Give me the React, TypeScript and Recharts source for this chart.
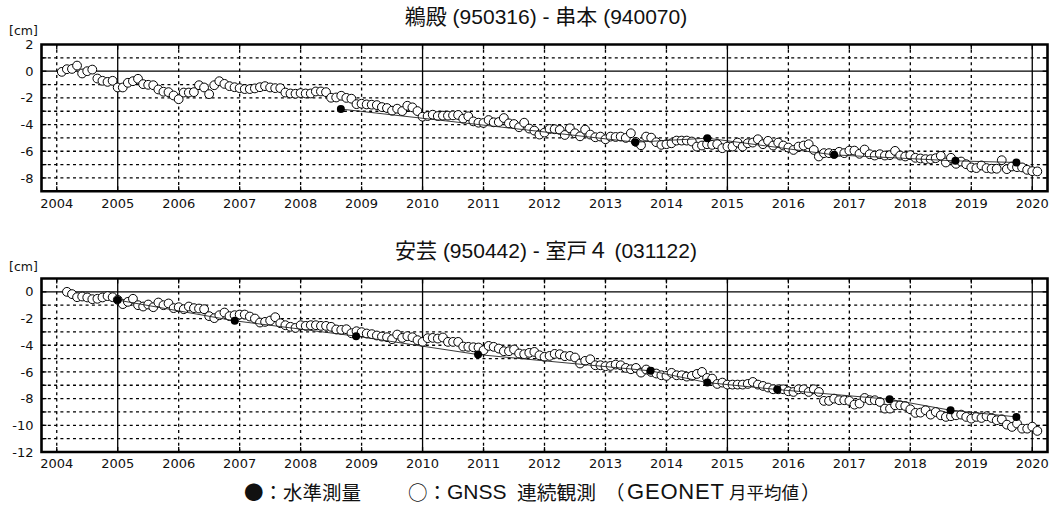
import { ScatterChart, Scatter, XAxis, YAxis, ReferenceLine, ReferenceArea } from "recharts";

// x axis
const years = [2004, 2005, 2006, 2007, 2008, 2009, 2010, 2011, 2012, 2013, 2014, 2015, 2016, 2017, 2018, 2019, 2020];
const xDomain = [2003.75, 2020.25];

// panel 1: 鵜殿 - 串本
const topTitle = "鵜殿 (950316) - 串本 (940070)";
const topYTicks = [2, 0, -2, -4, -6, -8];
const topYDomain = [-9, 2];
const topGnssStart = 2004.083; // monthly values from Feb 2004
const topGnss = [
  -0.05, 0.15, 0.17, 0.42, -0.17, 0.0, 0.12, -0.55, -0.72, -0.8, -0.72, -1.22,
  -1.22, -0.87, -0.75, -0.57, -0.97, -1.02, -1.05, -1.37, -1.54, -1.57, -1.82, -2.1,
  -1.6, -1.6, -1.57, -1.05, -1.22, -1.72, -1.05, -0.75, -0.95, -1.12, -1.2, -1.27,
  -1.34, -1.34, -1.29, -1.2, -1.12, -1.22, -1.27, -1.27, -1.6, -1.67, -1.69, -1.64,
  -1.67, -1.67, -1.52, -1.52, -1.57, -1.99, -1.97, -1.84, -2.0, -2.06, -2.47, -2.44,
  -2.49, -2.51, -2.54, -2.69, -2.76, -2.96, -2.81, -2.99, -2.59, -2.71, -2.99, -3.41,
  -3.36, -3.26, -3.36, -3.33, -3.33, -3.31, -3.28, -3.56, -3.38, -3.76, -3.86, -3.88,
  -3.66, -3.83, -3.81, -3.51, -3.91, -3.96, -4.2, -3.86, -4.3, -4.45, -4.75, -4.6,
  -4.33, -4.35, -4.4, -4.78, -4.28, -4.65, -4.88, -4.38, -4.75, -4.95, -4.9, -5.1,
  -4.9, -4.93, -4.9, -5.0, -4.65, -5.3, -5.55, -4.9, -4.98, -5.32, -5.52, -5.47,
  -5.4, -5.2, -5.2, -5.2, -5.27, -5.65, -5.57, -5.47, -5.52, -5.47, -5.77, -5.65,
  -5.65, -5.35, -5.65, -5.4, -5.35, -5.1, -5.47, -5.22, -5.57, -5.35, -5.57, -5.72,
  -5.9, -5.65, -5.57, -5.47, -5.9, -6.39, -6.14, -6.14, -6.19, -6.04, -6.14, -5.95,
  -5.95, -6.19, -5.87, -6.22, -6.32, -6.22, -6.32, -6.29, -5.97, -6.32, -6.39, -6.29,
  -6.49, -6.54, -6.59, -6.59, -6.52, -6.34, -6.84, -6.49, -6.94, -6.77, -6.97, -7.21,
  -7.26, -7.06, -7.26, -7.31, -7.31, -6.67, -7.34, -7.14, -7.19, -7.21, -7.39, -7.49,
  -7.51,
];
const topLevelT = [2008.66, 2013.49, 2014.67, 2016.75, 2018.74, 2019.74];
const topLevelV = [-2.84, -5.32, -5.02, -6.27, -6.72, -6.84];

// panel 2: 安芸 - 室戸4
const botTitle = "安芸 (950442) - 室戸４ (031122)";
const botYTicks = [0, -2, -4, -6, -8, -10, -12];
const botYDomain = [-12, 1];
const botGnssStart = 2004.167; // monthly values from Mar 2004
const botGnss = [
  0.0, -0.17, -0.4, -0.35, -0.42, -0.55, -0.52, -0.42, -0.32, -0.4, -0.6,
  -0.92, -0.75, -0.52, -1.0, -1.1, -0.95, -1.15, -0.8, -1.0, -0.87, -1.22, -1.15,
  -1.3, -1.1, -1.22, -1.25, -1.3, -1.82, -1.97, -1.75, -1.55, -1.82, -1.75, -1.7,
  -1.7, -1.85, -2.0, -2.3, -2.25, -2.15, -1.9, -2.35, -2.5, -2.62, -2.7, -2.5,
  -2.55, -2.5, -2.5, -2.55, -2.55, -2.62, -2.82, -2.85, -2.8, -3.1, -2.95, -3.02,
  -3.12, -3.17, -3.27, -3.35, -3.4, -3.55, -3.2, -3.45, -3.32, -3.4, -3.62, -3.75,
  -3.47, -3.45, -3.5, -3.42, -3.75, -3.75, -3.75, -4.1, -4.12, -4.15, -4.17, -4.37,
  -4.05, -4.12, -4.25, -4.45, -4.45, -4.32, -4.62, -4.67, -4.57, -4.5, -4.75, -4.87,
  -4.8, -4.65, -4.67, -4.82, -4.8, -4.92, -5.37, -5.17, -5.05, -5.5, -5.5, -5.57,
  -5.55, -5.45, -5.5, -5.7, -5.8, -5.7, -6.05, -5.82, -6.0, -6.12, -6.25, -6.3,
  -6.07, -6.25, -6.25, -6.35, -6.3, -6.15, -6.0, -6.45, -6.5, -6.9, -6.8, -6.95,
  -6.95, -6.95, -6.95, -6.9, -6.75, -6.95, -7.05, -7.17, -7.3, -7.3, -7.3, -7.45,
  -7.5, -7.3, -7.3, -7.5, -7.3, -7.5, -8.17, -8.17, -8.0, -8.12, -8.12, -8.17,
  -8.45, -8.37, -7.95, -8.12, -8.12, -8.25, -8.75, -8.75, -8.5, -8.5, -8.55, -8.8,
  -9.07, -9.05, -8.87, -9.2, -9.0, -9.25, -9.37, -9.32, -9.25, -9.2, -9.37, -9.5,
  -9.37, -9.45, -9.32, -9.45, -9.62, -9.55, -9.95, -10.12, -9.87, -10.25, -10.25, -10.1,
  -10.42,
];
const botLevelT = [2005.0, 2006.92, 2008.91, 2010.91, 2013.74, 2014.67, 2015.82, 2017.66, 2018.66, 2019.74];
const botLevelV = [-0.62, -2.17, -3.32, -4.7, -5.92, -6.8, -7.32, -8.05, -8.87, -9.37];

// legend pieces (text, left px, font size, latin?)
const legendParts: [string, number, number, boolean][] = [
  ["●：水準測量", 244, 19.5, false],
  ["○：", 408, 19.5, false],
  ["GNSS", 447, 21, true],
  ["連続観測", 517, 19.8, false],
  ["（", 605, 19.5, false],
  ["GEONET", 627, 22, true],
  ["月平均値", 729, 17.5, false],
  ["）", 801, 19.5, false],
];

const tickFont = { fontFamily: "'DejaVu Sans', sans-serif", fontSize: 13, fill: "#111" };
const cjkFont = "'Liberation Sans', 'Noto Sans CJK JP', sans-serif";

const openCircle = (p: any) => (
  <circle cx={p.cx} cy={p.cy} r={4.4} fill="#fff" stroke="#000" strokeWidth={1} />
);
const filledCircle = (p: any) => <circle cx={p.cx} cy={p.cy} r={4} fill="#000" />;

type PanelProps = {
  top: number;
  height: number;
  marginTop: number;
  marginBottom: number;
  title: string;
  titleY: number;
  cmY: number;
  yDomain: number[];
  yTicks: number[];
  gnssStart: number;
  gnss: number[];
  levelT: number[];
  levelV: number[];
};

function Panel(props: PanelProps) {
  const { yDomain, yTicks } = props;
  const gnssData = props.gnss.map((v, i) => ({ t: props.gnssStart + i / 12, v }));
  const levelData = props.levelT.map((t, i) => ({ t, v: props.levelV[i] }));
  const gridY: number[] = [];
  for (let y = yDomain[0] + 1; y < yDomain[1]; y++) gridY.push(y);
  const tickDy = 0.37;
  const tickDx = 0.08;

  return (
    <div style={{ position: "absolute", left: 0, top: props.top, width: 1053, height: props.height }}>
      <div
        style={{
          position: "absolute",
          left: 296,
          width: 500,
          top: props.titleY - 13,
          height: 26,
          lineHeight: "26px",
          textAlign: "center",
          fontFamily: cjkFont,
          fontSize: 21,
          color: "#111",
        }}
      >
        {props.title}
      </div>
      <div
        style={{
          position: "absolute",
          left: 9,
          top: props.cmY - 7,
          height: 14,
          lineHeight: "14px",
          fontFamily: "'DejaVu Sans', sans-serif",
          fontSize: 12.5,
          color: "#111",
        }}
      >
        [cm]
      </div>
      <ScatterChart
        width={1053}
        height={props.height}
        margin={{ top: props.marginTop, right: 5.5, bottom: props.marginBottom, left: 8.5 }}
      >
        <XAxis
          type="number"
          dataKey="t"
          domain={xDomain}
          ticks={years}
          interval={0}
          allowDataOverflow
          axisLine={false}
          tickLine={false}
          tickSize={5}
          tickMargin={2}
          height={20}
          tick={tickFont}
        />
        <YAxis
          type="number"
          dataKey="v"
          domain={yDomain}
          ticks={yTicks}
          interval={0}
          allowDataOverflow
          axisLine={false}
          tickLine={false}
          tickSize={5}
          tickMargin={3}
          width={33}
          tick={tickFont}
        />
        {gridY.map((y) => (
          <ReferenceLine
            key={"gy" + y}
            y={y}
            stroke="#000"
            strokeWidth={1.3}
            strokeDasharray={y === 0 ? undefined : "3 3.3"}
          />
        ))}
        {years.map((x) => (
          <ReferenceLine
            key={"gx" + x}
            x={x}
            stroke="#000"
            strokeWidth={1.3}
            strokeDasharray={x % 5 === 0 ? undefined : "3 3.3"}
          />
        ))}
        {years.map((x) => (
          <ReferenceLine
            key={"tt" + x}
            segment={[{ x, y: yDomain[1] }, { x, y: yDomain[1] - tickDy }]}
            stroke="#000"
            strokeWidth={1.3}
          />
        ))}
        {years.map((x) => (
          <ReferenceLine
            key={"tb" + x}
            segment={[{ x, y: yDomain[0] }, { x, y: yDomain[0] + tickDy }]}
            stroke="#000"
            strokeWidth={1.3}
          />
        ))}
        {gridY.map((y) => (
          <ReferenceLine
            key={"tl" + y}
            segment={[{ x: xDomain[0], y }, { x: xDomain[0] + tickDx, y }]}
            stroke="#000"
            strokeWidth={1.3}
          />
        ))}
        {gridY.map((y) => (
          <ReferenceLine
            key={"tr" + y}
            segment={[{ x: xDomain[1], y }, { x: xDomain[1] - tickDx, y }]}
            stroke="#000"
            strokeWidth={1.3}
          />
        ))}
        <Scatter data={gnssData} shape={openCircle} isAnimationActive={false} />
        <Scatter
          data={levelData}
          shape={filledCircle}
          line={{ stroke: "#222", strokeWidth: 0.9 }}
          lineType="joint"
          isAnimationActive={false}
        />
        <ReferenceArea
          x1={xDomain[0]}
          x2={xDomain[1]}
          y1={yDomain[0]}
          y2={yDomain[1]}
          fill="none"
          fillOpacity={0}
          stroke="#000"
          strokeWidth={2.6}
          ifOverflow="visible"
        />
      </ScatterChart>
    </div>
  );
}

export default function App() {
  return (
    <div style={{ position: "relative", width: 1053, height: 506, background: "#fff", overflow: "hidden" }}>
      <style>{`body{margin:0;background:#fff}`}</style>
      <Panel
        top={0}
        height={215}
        marginTop={44.5}
        marginBottom={3.7}
        title={topTitle}
        titleY={17}
        cmY={31}
        yDomain={topYDomain}
        yTicks={topYTicks}
        gnssStart={topGnssStart}
        gnss={topGnss}
        levelT={topLevelT}
        levelV={topLevelV}
      />
      <Panel
        top={230}
        height={245}
        marginTop={48.5}
        marginBottom={3}
        title={botTitle}
        titleY={20.5}
        cmY={37}
        yDomain={botYDomain}
        yTicks={botYTicks}
        gnssStart={botGnssStart}
        gnss={botGnss}
        levelT={botLevelT}
        levelV={botLevelV}
      />
      <div style={{ position: "absolute", top: 480, height: 24, left: 0, width: 1053, color: "#111", whiteSpace: "nowrap" }}>
        {legendParts.map(([text, left, size, latin]) => (
          <span
            key={text}
            style={{
              position: "absolute",
              left,
              top: 0,
              height: 24,
              lineHeight: "24px",
              fontSize: size,
              fontFamily: latin ? "'Liberation Sans', sans-serif" : "'Noto Sans CJK JP', sans-serif",
              letterSpacing: latin && text.length > 4 ? 0.8 : 0,
            }}
          >
            {text}
          </span>
        ))}
      </div>
    </div>
  );
}
